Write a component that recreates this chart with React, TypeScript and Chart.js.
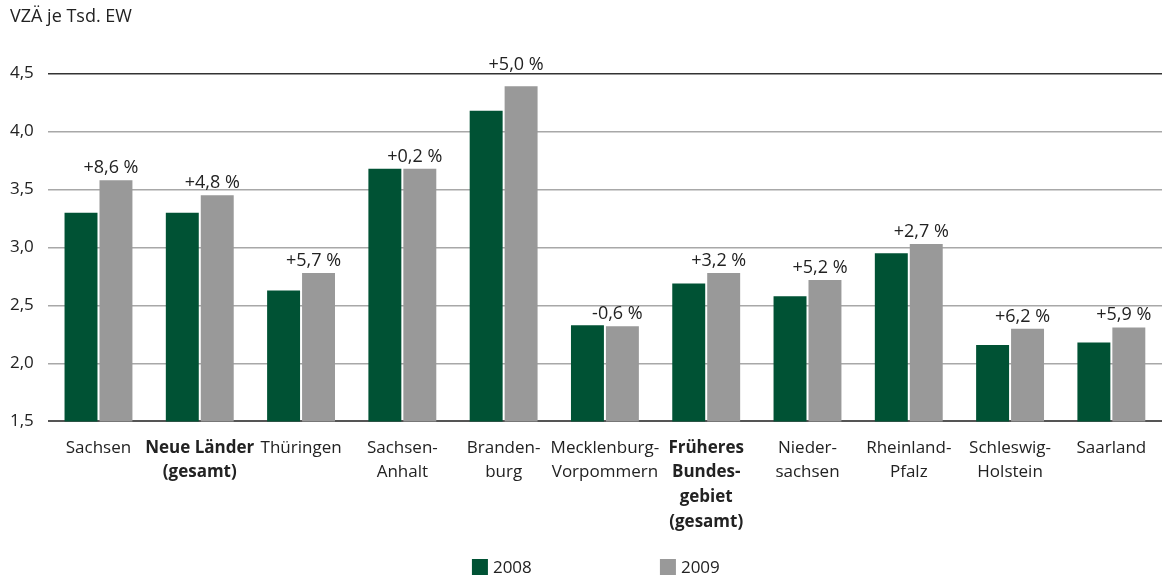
import React, { useEffect, useRef } from "react";
import { Chart, registerables } from "chart.js";

Chart.register(...registerables);

const categories: (string | string[])[] = [
  "Sachsen",
  ["Neue Länder", "(gesamt)"],
  "Thüringen",
  ["Sachsen-", "Anhalt"],
  ["Branden-", "burg"],
  ["Mecklenburg-", "Vorpommern"],
  ["Früheres", "Bundes-", "gebiet", "(gesamt)"],
  ["Nieder-", "sachsen"],
  ["Rheinland-", "Pfalz"],
  ["Schleswig-", "Holstein"],
  "Saarland",
];

// Categories shown in bold (aggregates)
const boldCategories = [1, 6];

const values2008 = [3.30, 3.30, 2.63, 3.68, 4.18, 2.33, 2.69, 2.58, 2.95, 2.16, 2.18];
const values2009 = [3.58, 3.45, 2.78, 3.68, 4.39, 2.32, 2.78, 2.72, 3.03, 2.30, 2.31];

const changeLabels = [
  "+8,6 %", "+4,8 %", "+5,7 %", "+0,2 %", "+5,0 %", "-0,6 %",
  "+3,2 %", "+5,2 %", "+2,7 %", "+6,2 %", "+5,9 %",
];

const seriesNames = ["2008", "2009"];
const GREEN = "#005234";
const GRAY = "#999999";
const FONT = "'Open Sans', 'Noto Sans', sans-serif";

// Percentage change written above each 2009 bar; lifted above the top
// gridline when the bar reaches too close to it
const changeLabelPlugin = {
  id: "changeLabels",
  afterDatasetsDraw(chart: any) {
    const { ctx, chartArea } = chart;
    const meta = chart.getDatasetMeta(1);
    ctx.save();
    ctx.font = `18px ${FONT}`;
    ctx.fillStyle = "#222";
    ctx.textAlign = "center";
    ctx.textBaseline = "alphabetic";
    meta.data.forEach((bar: any, i: number) => {
      let y = bar.y - 7;
      if (y - 14 < chartArea.top + 2) y = chartArea.top - 4;
      ctx.fillText(changeLabels[i], bar.x - 5, y);
    });
    ctx.restore();
  },
};

// Horizontal legend below the axis labels, items spaced wide apart
const wideLegendPlugin = {
  id: "wideLegend",
  afterDraw(chart: any) {
    const { ctx, chartArea, height } = chart;
    const mid = (chartArea.left + chartArea.right) / 2;
    const spacing = 188;
    const box = 16;
    ctx.save();
    ctx.font = `17px ${FONT}`;
    ctx.textBaseline = "middle";
    ctx.textAlign = "left";
    chart.data.datasets.forEach((ds: any, i: number) => {
      const x = mid - 133 + i * spacing;
      const y = height - 12;
      ctx.fillStyle = ds.backgroundColor;
      ctx.fillRect(x, y - box / 2, box, box);
      ctx.fillStyle = "#222";
      ctx.fillText(ds.label, x + box + 5, y + 1);
    });
    ctx.restore();
  },
};

export default function App() {
  const canvasRef = useRef<HTMLCanvasElement | null>(null);

  useEffect(() => {
    document.body.style.margin = "0";
    const canvas = canvasRef.current;
    if (!canvas) return;
    const chart = new Chart(canvas, {
      type: "bar",
      data: {
        labels: categories,
        datasets: [
          {
            label: seriesNames[0],
            data: values2008,
            backgroundColor: GREEN,
            categoryPercentage: 0.69,
            barPercentage: 0.943,
          },
          {
            label: seriesNames[1],
            data: values2009,
            backgroundColor: GRAY,
            categoryPercentage: 0.69,
            barPercentage: 0.943,
          },
        ],
      },
      options: {
        animation: false,
        responsive: false,
        maintainAspectRatio: false,
        layout: { padding: { left: 10, right: 0, top: 0, bottom: 39 } },
        plugins: {
          legend: { display: false },
          tooltip: { enabled: false },
          title: {
            display: true,
            text: "VZÄ je Tsd. EW",
            align: "start",
            color: "#222",
            font: { family: FONT, size: 18, weight: "normal" },
            padding: { top: 6, bottom: 46 },
          },
        },
        scales: {
          x: {
            grid: { display: false },
            border: { display: false },
            ticks: {
              color: "#222",
              padding: 6,
              maxRotation: 0,
              autoSkip: false,
              font: (c: any) => ({
                family: FONT,
                size: 17,
                lineHeight: 1.45,
                weight: boldCategories.includes(c.index) ? "bold" : "normal",
              }),
            },
          },
          y: {
            min: 1.5,
            max: 4.5,
            border: { display: false },
            grid: {
              drawTicks: false,
              lineWidth: (c: any) => (c.index === 0 ? 2 : 1.5),
              color: (c: any) =>
                c.index === 0 ? "#555555" : c.index === 6 ? "#333333" : "#a8a8a8",
            },
            ticks: {
              stepSize: 0.5,
              padding: 7,
              crossAlign: "far",
              color: "#222",
              font: { family: FONT, size: 17 },
              callback: (v: any) => Number(v).toFixed(1).replace(".", ","),
            },
          },
        },
      },
      plugins: [changeLabelPlugin, wideLegendPlugin],
    });
    return () => chart.destroy();
  }, []);

  return (
    <div style={{ width: 1162, height: 579 }}>
      <canvas ref={canvasRef} width={1162} height={579} />
    </div>
  );
}
